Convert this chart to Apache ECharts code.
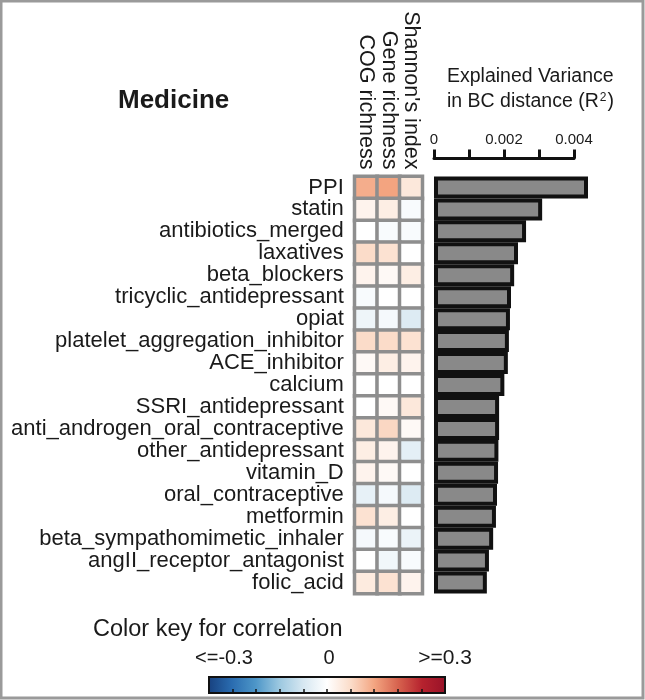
<!DOCTYPE html>
<html>
<head>
<meta charset="utf-8">
<script src="https://cdn.jsdelivr.net/npm/echarts@6/dist/echarts.min.js"></script>
<style>
html,body{margin:0;padding:0;background:#fff;}
#chart{width:645px;height:700px;}
</style>
</head>
<body>
<div id="chart"></div>
<script>
// ---------- data ----------
const drugs = ['PPI','statin','antibiotics_merged','laxatives','beta_blockers','tricyclic_antidepressant','opiat','platelet_aggregation_inhibitor','ACE_inhibitor','calcium','SSRI_antidepressant','anti_androgen_oral_contraceptive','other_antidepressant','vitamin_D','oral_contraceptive','metformin','beta_sympathomimetic_inhaler','angII_receptor_antagonist','folic_acid'];
const corrColumns = ['COG richness','Gene richness',"Shannon's index"];
const cogRichness  = [0.11, 0.02, 0.00, 0.06, 0.02,-0.01,-0.025, 0.06, 0.01, 0.00, 0.00, 0.04, 0.03, 0.02,-0.035, 0.05,-0.015, 0.00, 0.035];
const geneRichness = [0.12, 0.03,-0.01, 0.05, 0.01, 0.00,-0.015, 0.06, 0.03, 0.00, 0.01, 0.065, 0.02, 0.01,-0.015, 0.03,-0.01,-0.02, 0.05];
const shannonIndex = [0.04,-0.01,-0.01, 0.00, 0.03, 0.00,-0.05, 0.05, 0.02, 0.00, 0.04, 0.01,-0.04, 0.00,-0.05, 0.00,-0.03,-0.01, 0.02];
const explainedVariance = [0.00440,0.00309,0.00263,0.00240,0.00229,0.00220,0.00217,0.00214,0.00211,0.00201,0.00186,0.00186,0.00184,0.00183,0.00180,0.00177,0.00169,0.00157,0.00151];
const barTickLabels = {0:'0', 0.002:'0.002', 0.004:'0.004'};
const keyLabels = ['<=-0.3','0','>=0.3'];
const palette = ['#17407e','#2a6cb0','#4d96c8','#9cc8e0','#d6e7f1','#ffffff','#fbdcc9','#f3a480','#d6624e','#b6222e','#981228'];

// ---------- build ----------
const colValues = [cogRichness, geneRichness, shannonIndex];
const heatData = [];
drugs.forEach((d,i)=>{ colValues.forEach((arr,j)=>{ heatData.push([j,i,arr[i]]); }); });

const FONT = 'Liberation Sans, Arial, sans-serif';
const TXT = '#1a1a1a';
const chart = echarts.init(document.getElementById('chart'), null, {renderer:'canvas'});
const stops = palette.map((c,i)=>({offset:i/(palette.length-1), color:c}));

const option = {
  animation:false,
  backgroundColor:'#fff',
  textStyle:{fontFamily:FONT},
  grid:[
    {left:354.75, top:176.5, width:67.5, height:417},
    {left:434, top:176.5, width:140, height:417},
    {left:209, top:677, width:236, height:16}
  ],
  xAxis:[
    {gridIndex:0, type:'category', data:corrColumns, position:'top',
     axisLine:{show:false}, axisTick:{show:false}, splitLine:{show:false},
     axisLabel:{rotate:90, interval:0, margin:7, fontSize:21.5, color:TXT, fontFamily:FONT}},
    {gridIndex:1, type:'value', min:0, max:0.004, interval:0.001, position:'top', offset:18,
     axisLine:{show:true, lineStyle:{color:'#111', width:3}},
     axisTick:{show:true, length:9, lineStyle:{color:'#111', width:3}},
     splitLine:{show:false},
     axisLabel:{margin:11, fontSize:15, color:TXT, fontFamily:FONT,
       formatter:v=>{const k=Math.round(v*1000)/1000; return barTickLabels[k]!==undefined?barTickLabels[k]:'';}}},
    {gridIndex:2, type:'value', min:-0.3, max:0.3, interval:0.06, position:'top',
     axisLine:{show:false}, axisTick:{show:true, length:4, lineStyle:{color:'#111', width:1.5}},
     axisLabel:{show:false}, splitLine:{show:false}}
  ],
  yAxis:[
    {gridIndex:0, type:'category', data:drugs, inverse:true,
     axisLine:{show:false}, axisTick:{show:false}, splitLine:{show:false},
     axisLabel:{interval:0, margin:11, fontSize:22, color:TXT, fontFamily:FONT}},
    {gridIndex:1, type:'category', data:drugs, inverse:true, show:false},
    {gridIndex:2, type:'value', show:false}
  ],
  visualMap:{show:false, type:'continuous', min:-0.3, max:0.3, seriesIndex:0, dimension:2, inRange:{color:palette}},
  series:[
    {type:'heatmap', xAxisIndex:0, yAxisIndex:0, data:heatData,
     itemStyle:{borderColor:'#8e8e8e', borderWidth:3.5}},
    {type:'bar', xAxisIndex:1, yAxisIndex:1, data:explainedVariance, barWidth:22, clip:false,
     itemStyle:{color:'#898989', borderColor:'#111', borderWidth:4}}
  ],
  graphic:[
    {type:'rect', shape:{x:1, y:1, width:642, height:697}, style:{fill:'none', stroke:'#9a9a9a', lineWidth:3}, silent:true},
    {type:'text', left:118, top:88, style:{text:'Medicine', font:'bold 26px '+FONT, fill:TXT}},
    {type:'text', left:447, top:67, style:{text:'Explained Variance', font:'19.5px '+FONT, fill:TXT}},
    {type:'text', left:447, top:92, style:{text:'in BC distance (R{s|2})', font:'19.5px '+FONT, fill:TXT,
       rich:{s:{fontSize:12, fontFamily:FONT, verticalAlign:'top', padding:[0,1,8,1]}}}},
    {type:'text', left:93, top:618, style:{text:'Color key for correlation', font:'23.5px '+FONT, fill:TXT}},
    {type:'text', x:224, y:658, style:{text:keyLabels[0], font:'20px '+FONT, fill:TXT, textAlign:'center', textVerticalAlign:'middle'}},
    {type:'text', x:329, y:658, style:{text:keyLabels[1], font:'20px '+FONT, fill:TXT, textAlign:'center', textVerticalAlign:'middle'}},
    {type:'text', x:445, y:658, style:{text:keyLabels[2], font:'21px '+FONT, fill:TXT, textAlign:'center', textVerticalAlign:'middle'}},
    {type:'rect', shape:{x:209, y:677, width:236, height:16},
     style:{fill:new echarts.graphic.LinearGradient(0,0,1,0,stops), stroke:'#111', lineWidth:2}}
  ]
};
chart.setOption(option);
</script>
</body>
</html>
